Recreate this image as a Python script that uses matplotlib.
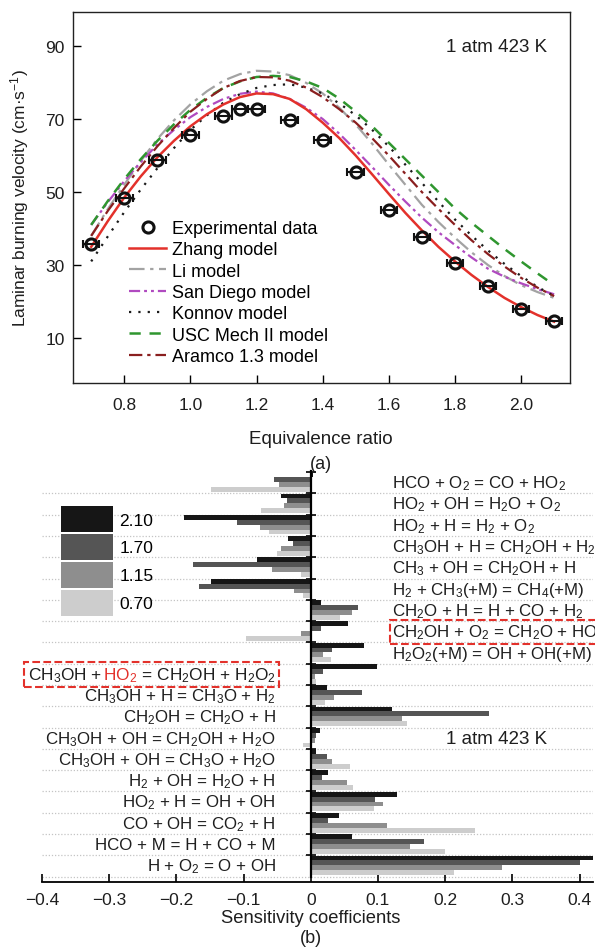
import numpy as np
import matplotlib
matplotlib.use('Agg')
import matplotlib.pyplot as plt
from matplotlib.offsetbox import TextArea, HPacker, AnnotationBbox

plt.rcParams['font.family'] = ['Liberation Sans', 'DejaVu Sans']
plt.rcParams['mathtext.fontset'] = 'custom'
plt.rcParams['mathtext.rm'] = 'Liberation Sans'
plt.rcParams['mathtext.it'] = 'Liberation Sans:italic'
plt.rcParams['mathtext.bf'] = 'Liberation Sans:bold'
plt.rcParams['mathtext.default'] = 'regular'
plt.rcParams['font.size'] = 12

# ---- (a) laminar burning velocity ----
phi_exp = [0.7, 0.8, 0.9, 1.0, 1.1, 1.15, 1.2, 1.3, 1.4, 1.5, 1.6, 1.7, 1.8, 1.9, 2.0, 2.1]
s_exp = [35.8, 48.4, 58.8, 65.6, 70.8, 72.7, 72.7, 69.7, 64.3, 55.6, 45.2, 37.8, 30.5, 24.2, 18.0, 14.6]

phi_model = [0.70, 0.75, 0.80, 0.85, 0.90, 0.95, 1.00, 1.05, 1.10, 1.15, 1.20, 1.25, 1.30, 1.35, 1.40,
             1.45, 1.50, 1.55, 1.60, 1.65, 1.70, 1.75, 1.80, 1.85, 1.90, 1.95, 2.00, 2.05, 2.10]
s_zhang = [35.0, 42.0, 48.5, 54.3, 59.5, 64.0, 68.0, 71.3, 74.0, 76.0, 77.0, 76.8, 75.5, 72.7, 69.0,
           64.8, 60.0, 54.8, 49.5, 44.3, 39.5, 35.0, 31.0, 27.3, 24.0, 21.0, 18.5, 16.3, 14.5]
s_li = [38.0, 45.3, 52.0, 58.5, 64.5, 69.6, 74.0, 77.6, 80.5, 82.3, 83.2, 83.0, 82.0, 79.9, 77.0,
        73.1, 68.5, 63.2, 57.5, 52.0, 46.5, 41.8, 37.5, 33.5, 30.0, 27.0, 24.5, 22.6, 21.0]
s_sandiego = [41.0, 47.2, 53.0, 58.2, 63.0, 67.0, 70.5, 73.3, 75.5, 76.9, 77.5, 77.0, 75.5, 73.1, 70.0,
              66.0, 61.5, 56.8, 52.0, 47.4, 43.0, 39.0, 35.5, 32.1, 29.0, 26.8, 25.0, 23.4, 22.0]
s_konnov = [31.0, 37.8, 44.5, 50.7, 56.5, 62.0, 67.0, 71.0, 74.5, 76.8, 78.5, 79.3, 79.5, 78.6, 77.0,
            74.3, 71.0, 67.0, 62.5, 57.5, 52.5, 47.4, 42.5, 38.1, 34.0, 30.3, 27.0, 24.0, 21.5]
s_usc = [41.0, 47.5, 53.5, 59.0, 64.0, 68.5, 72.5, 75.8, 78.5, 80.3, 81.5, 81.8, 81.5, 80.3, 78.5,
         75.6, 72.0, 68.0, 63.5, 59.0, 54.5, 50.0, 45.5, 41.6, 38.0, 34.4, 31.0, 27.7, 24.5]
s_aramco = [38.0, 44.8, 51.0, 57.0, 62.5, 67.5, 72.0, 75.5, 78.5, 80.4, 81.5, 81.4, 80.5, 78.6, 76.0,
            72.7, 69.0, 64.7, 60.0, 55.0, 50.0, 45.4, 41.0, 36.8, 33.0, 29.6, 26.5, 23.8, 21.5]

# ---- (b) sensitivity coefficients (phi = 2.10, 1.70, 1.15, 0.70) ----
reactions = [
    'HCO + O$_2$ = CO + HO$_2$',
    'HO$_2$ + OH = H$_2$O + O$_2$',
    'HO$_2$ + H = H$_2$ + O$_2$',
    'CH$_3$OH + H = CH$_2$OH + H$_2$',
    'CH$_3$ + OH = CH$_2$OH + H',
    'H$_2$ + CH$_3$(+M) = CH$_4$(+M)',
    'CH$_2$O + H = H + CO + H$_2$',
    'CH$_2$OH + O$_2$ = CH$_2$O + HO$_2$',
    'H$_2$O$_2$(+M) = OH + OH(+M)',
    'CH$_3$OH + HO$_2$ = CH$_2$OH + H$_2$O$_2$',
    'CH$_3$OH + H = CH$_3$O + H$_2$',
    'CH$_2$OH = CH$_2$O + H',
    'CH$_3$OH + OH = CH$_2$OH + H$_2$O',
    'CH$_3$OH + OH = CH$_3$O + H$_2$O',
    'H$_2$ + OH = H$_2$O + H',
    'HO$_2$ + H = OH + OH',
    'CO + OH = CO$_2$ + H',
    'HCO + M = H + CO + M',
    'H + O$_2$ = O + OH',
]
sens_210 = [0.004, -0.044, -0.188, -0.034, -0.080, -0.148, 0.015, 0.055, 0.079, 0.098,
            0.024, 0.121, 0.013, 0.008, 0.026, 0.129, 0.042, 0.062, 0.420]
sens_170 = [-0.054, -0.036, -0.110, -0.026, -0.175, -0.167, 0.070, 0.015, 0.031, 0.018,
            0.076, 0.265, 0.008, 0.024, 0.016, 0.096, 0.026, 0.168, 0.400]
sens_115 = [-0.048, -0.040, -0.075, -0.044, -0.058, -0.025, 0.061, -0.014, 0.018, 0.006,
            0.035, 0.136, 0.006, 0.031, 0.054, 0.107, 0.114, 0.148, 0.285]
sens_070 = [-0.148, -0.074, -0.062, -0.050, -0.014, -0.012, 0.043, -0.096, 0.030, 0.008,
            0.021, 0.143, -0.012, 0.059, 0.063, 0.094, 0.245, 0.200, 0.213]
ratio_labels = ['2.10', '1.70', '1.15', '0.70']

fig = plt.figure(figsize=(5.95, 9.53), dpi=100)
W, H = 595, 953
INK = '#1e1e1e'

# ---------------- panel (a) ----------------
ax1 = fig.add_axes([73 / W, 1 - 384 / H, 497 / W, 371 / H])

ax1.plot(phi_exp, s_exp, 'o', ms=8, mfc='none', mec='#111111', mew=2.2,
         label='Experimental data', zorder=6)
ax1.errorbar(phi_exp, s_exp, xerr=0.025, fmt='none', ecolor='#111111',
             elinewidth=1.5, capsize=3, capthick=1.5, zorder=5)
ax1.plot(phi_model, s_zhang, '-', color='#e3312b', lw=1.8, label='Zhang model', zorder=4)
ax1.plot(phi_model, s_li, color='#a3a3a3', lw=1.6, dashes=(7, 2.5, 1.5, 2.5), label='Li model')
ax1.plot(phi_model, s_sandiego, color='#b04ac0', lw=1.6, dashes=(5, 1.8, 1.3, 1.8, 1.3, 1.8),
         label='San Diego model')
ax1.plot(phi_model, s_konnov, color='#1a1a1a', lw=1.6, dashes=(1, 3.2), label='Konnov model')
ax1.plot(phi_model, s_usc, color='#2f962f', lw=1.8, dashes=(4.5, 3.5), label='USC Mech II model')
ax1.plot(phi_model, s_aramco, color='#8a1f1f', lw=1.6, dashes=(6, 2.2, 1.5, 2.2),
         label='Aramco 1.3 model')

ax1.set_xlim(0.645, 2.148)
ax1.set_ylim(-2.3, 99.3)
ax1.set_xticks([0.8, 1.0, 1.2, 1.4, 1.6, 1.8, 2.0])
ax1.set_yticks([10, 30, 50, 70, 90])
ax1.tick_params(direction='in', length=6, width=1, labelsize=12.5, top=False, right=False,
                labelcolor=INK)
ax1.tick_params(axis='x', pad=10)
ax1.tick_params(axis='y', pad=6)
for sp in ax1.spines.values():
    sp.set_linewidth(1.0)
    sp.set_color('#222222')

ax1.text(0.954, 0.906, '1 atm 423 K', transform=ax1.transAxes, ha='right', va='center',
         fontsize=13.5, color=INK)
ax1.legend(loc='upper left', bbox_to_anchor=(129 / W, 1 - 221 / H), bbox_transform=fig.transFigure,
           frameon=False, fontsize=13, handlelength=2.05, handletextpad=0.33, labelspacing=0.24,
           borderpad=0, borderaxespad=0)

fig.text(20 / W, 1 - 198 / H, 'Laminar burning velocity (cm·s$^{-1}$)', rotation=90,
         ha='center', va='center', fontsize=12.5, color=INK)
fig.text(321 / W, 1 - 440 / H, 'Equivalence ratio', ha='center', va='center', fontsize=13.5,
         color=INK)
fig.text(321 / W, 1 - 465 / H, '(a)', ha='center', va='center', fontsize=13, color=INK)

# ---------------- panel (b) ----------------
ax2 = fig.add_axes([42 / W, 1 - 883 / H, 551 / W, 411 / H])
pos = np.arange(len(reactions))
series = [sens_210, sens_170, sens_115, sens_070]
colors = ['#161616', '#555555', '#8e8e8e', '#cdcdcd']
offsets = [0.125, 0.355, 0.585, 0.815]
for vals, c, off, lab in zip(series, colors, offsets, ratio_labels):
    ax2.barh(pos + off, vals, height=0.23, color=c, label=lab, zorder=3)

ax2.set_xlim(-0.4, 0.42)
ax2.set_ylim(19.25, -0.05)
ax2.hlines(np.arange(1, len(reactions) + 1), -0.4, 0.42, colors='#c4c4c4',
           linestyles=(0, (1, 1.5)), lw=0.9, zorder=1)

ax2.spines['top'].set_visible(False)
ax2.spines['right'].set_visible(False)
ax2.spines['left'].set_position(('data', 0))
ax2.spines['left'].set_bounds(len(reactions), -0.05)
ax2.spines['left'].set_linewidth(1.6)
ax2.spines['left'].set_zorder(4)
ax2.spines['bottom'].set_linewidth(1.3)
ax2.set_yticks(pos)
ax2.tick_params(axis='y', direction='inout', length=7, width=1.2, labelleft=False)
ax2.set_xticks([-0.4, -0.3, -0.2, -0.1, 0, 0.1, 0.2, 0.3, 0.4])
ax2.set_xticklabels(['\u22120.4', '\u22120.3', '\u22120.2', '\u22120.1', '0', '0.1', '0.2', '0.3', '0.4'])
ax2.tick_params(axis='x', direction='in', length=6, width=1.2, labelsize=12.5, pad=7,
                labelcolor=INK)

txt_kw = dict(fontsize=12.2, color=INK, va='center')
for i, r in enumerate(reactions):
    if i == 9:
        continue
    if i < 9:
        t = ax2.text(0.121, i + 0.5, r, ha='left', **txt_kw)
        if i == 7:
            t.set_bbox(dict(boxstyle='square,pad=0.15', ec='#e3312b', fc='none', ls='--', lw=1.5))
    else:
        ax2.text(-0.052, i + 0.5, r, ha='right', **txt_kw)

# highlighted reaction with the HO2 species in red
tp = dict(fontsize=12.4, color=INK)
parts = [TextArea('CH$_3$OH + ', textprops=tp),
         TextArea('HO$_2$', textprops=dict(fontsize=12.4, color='#e3312b')),
         TextArea(' = CH$_2$OH + H$_2$O$_2$', textprops=tp)]
pack = HPacker(children=parts, align='baseline', pad=0, sep=0)
ab = AnnotationBbox(pack, (-0.052, 9.5), xycoords='data', box_alignment=(1, 0.5), frameon=True,
                    pad=0.35, bboxprops=dict(boxstyle='square,pad=0.2', ec='#e3312b', fc='none',
                                             ls='--', lw=1.5))
ax2.add_artist(ab)

ax2.text(0.277, 12.5, '1 atm 423 K', ha='center', va='center', fontsize=13.5, color=INK)
ax2.legend(loc='upper left', bbox_to_anchor=(61 / W, 1 - 507 / H), bbox_transform=fig.transFigure,
           frameon=False, fontsize=12.5, handlelength=3.0, handleheight=1.92, handletextpad=0.35,
           labelspacing=0.115, borderpad=0, borderaxespad=0)

fig.text(311 / W, 1 - 919 / H, 'Sensitivity coefficients', ha='center', va='center', fontsize=13.2,
         color=INK)
fig.text(311 / W, 1 - 939 / H, '(b)', ha='center', va='center', fontsize=13, color=INK)

fig.savefig('out.png', dpi=100)
